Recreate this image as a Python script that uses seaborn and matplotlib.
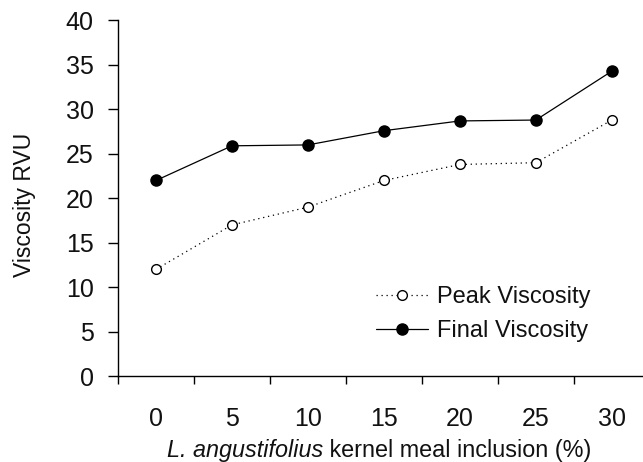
import matplotlib
matplotlib.use("Agg")
import matplotlib.pyplot as plt
import seaborn as sns
import pandas as pd
from matplotlib.ticker import FixedLocator

# Data: meal inclusion level (%) and RVA viscosity readings
inclusion = ["0", "5", "10", "15", "20", "25", "30"]
peak_viscosity = [12.0, 17.0, 19.0, 22.0, 23.8, 24.0, 28.8]
final_viscosity = [22.0, 25.9, 26.0, 27.6, 28.7, 28.8, 34.3]
y_ticks = [0, 5, 10, 15, 20, 25, 30, 35, 40]

sns.set_style("white")
plt.rcParams["font.family"] = ["Liberation Sans", "DejaVu Sans"]
plt.rcParams["font.size"] = 17
plt.rcParams["text.color"] = "#111111"
plt.rcParams["xtick.color"] = "#111111"
plt.rcParams["ytick.color"] = "#111111"

df = pd.DataFrame({"inclusion": inclusion,
                   "peak": peak_viscosity,
                   "final": final_viscosity})

W, H = 643, 462
fig = plt.figure(figsize=(W / 100, H / 100), dpi=100)
ax = fig.add_axes([118 / W, 86 / H, 1 - 118 / W, (376 - 20.5) / H])

sns.pointplot(data=df, x="inclusion", y="peak", order=inclusion, ax=ax,
              color="black", errorbar=None, marker="o", linestyle=(0, (1, 3)),
              linewidth=0.9, markersize=7, markerfacecolor="white",
              markeredgewidth=1.0, label="Peak Viscosity")
sns.pointplot(data=df, x="inclusion", y="final", order=inclusion, ax=ax,
              color="black", errorbar=None, marker="o", linestyle="-",
              linewidth=0.9, markersize=8, markerfacecolor="black",
              markeredgewidth=1.0, label="Final Viscosity")

ax.set_ylim(0, 40)
ax.set_xlim(-0.5, 6.41)
ax.set_yticks(y_ticks)
ax.set_xticks(range(len(inclusion)))
ax.set_xticklabels(inclusion)
ax.xaxis.set_minor_locator(FixedLocator([i - 0.5 for i in range(len(inclusion) + 1)]))

for side in ["top", "right"]:
    ax.spines[side].set_visible(False)
for side in ["left", "bottom"]:
    ax.spines[side].set_color("black")
    ax.spines[side].set_linewidth(1.0)

ax.tick_params(axis="x", which="major", length=0, pad=22, labelsize=18)
ax.tick_params(axis="x", which="minor", bottom=True, length=6, width=1.0,
               direction="out", color="black")
ax.tick_params(axis="y", which="major", left=True, length=7, width=1.0,
               direction="out", color="black", pad=10.5, labelsize=18)

ax.set_xlabel("")
ax.set_ylabel("")
fig.text(24 / W, 1 - 205 / H, "Viscosity RVU", rotation=90,
         ha="center", va="center", fontsize=16.5)

# x-axis title: italic species name followed by upright text
species = fig.text(167 / W, 1 - 457 / H, "L. angustifolius",
                   style="italic", ha="left", va="baseline", fontsize=16.8)
ax.annotate(" kernel meal inclusion (%)", xy=(1, 0), xycoords=species,
            ha="left", va="bottom", fontsize=16.8, annotation_clip=False)

ax.legend(loc="upper left", bbox_to_anchor=(376 / W, 1 - 286 / H),
          bbox_transform=fig.transFigure, frameon=False, borderpad=0,
          borderaxespad=0, handlelength=2.2, handletextpad=0.4,
          labelspacing=0.52, fontsize=17)

fig.savefig("out.png", dpi=100)
